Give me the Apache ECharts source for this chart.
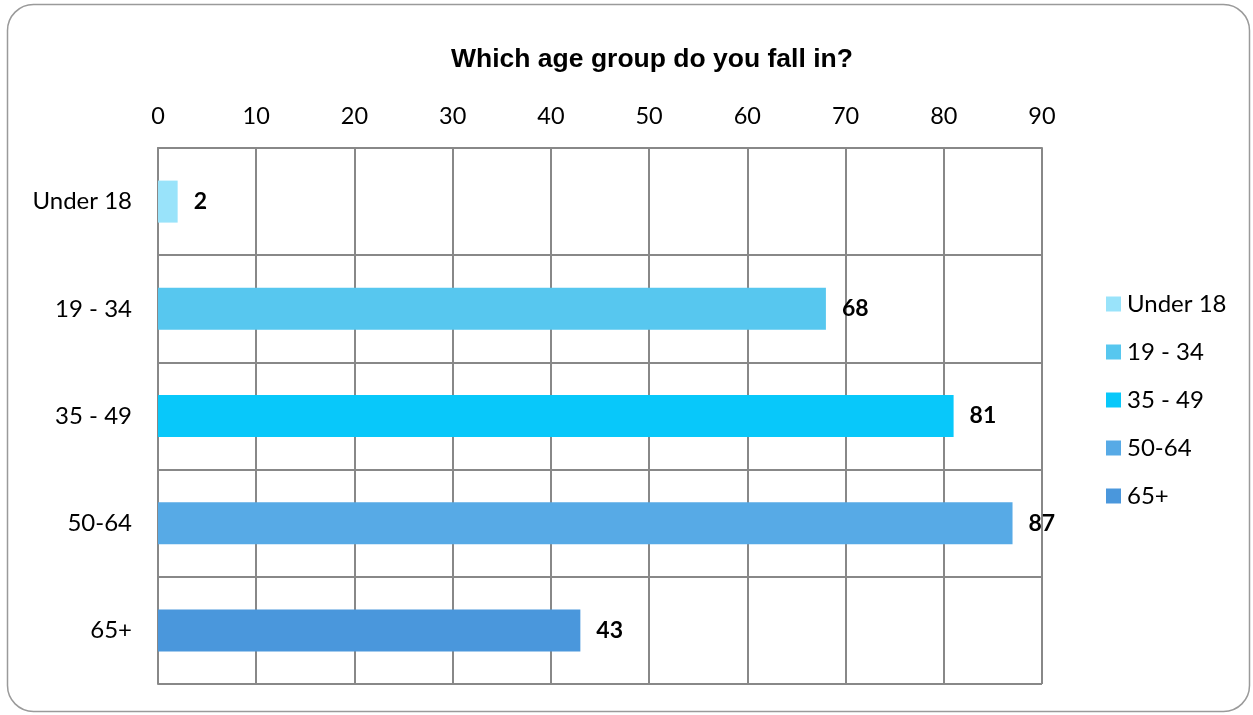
<!DOCTYPE html>
<html>
<head>
<meta charset="utf-8">
<script src="https://cdn.jsdelivr.net/npm/echarts@6/dist/echarts.min.js"></script>
<style>
  html, body { margin: 0; padding: 0; background: #fff; }
  #chart { width: 1253px; height: 715px; }
</style>
</head>
<body>
<div id="chart"></div>
<script>
// Survey responses per age group
const categories = ['Under 18', '19 - 34', '35 - 49', '50-64', '65+'];
const counts = [2, 68, 81, 87, 43];
const colors = ['#99E3FA', '#57C7EF', '#08C8FA', '#57AAE6', '#4A97DC'];
const xTicks = { min: 0, max: 90, interval: 10 };

const bodyFont = 'Lato, "Open Sans", sans-serif';

// One series per group so each gets its own legend entry; stacking keeps bars centred.
const series = categories.map((name, i) => ({
  name: name,
  type: 'bar',
  stack: 'all',
  barWidth: 42,
  itemStyle: { color: colors[i] },
  label: {
    show: true,
    position: 'right',
    distance: 16,
    fontFamily: bodyFont,
    fontWeight: 'bold',
    fontSize: 23,
    color: '#000',
    padding: [8, 0, 0, 0]
  },
  data: categories.map((c, j) => (j === i ? counts[i] : null))
}));

const chart = echarts.init(document.getElementById('chart'));
chart.setOption({
  animation: false,
  title: {
    text: 'Which age group do you fall in?',
    left: 446,
    top: 41,
    textStyle: {
      fontFamily: '"Liberation Sans", Arial, sans-serif',
      fontWeight: 'bold',
      fontSize: 26.5,
      color: '#000'
    }
  },
  graphic: [{
    type: 'rect',
    shape: { x: 7.5, y: 4.5, width: 1242, height: 707, r: 26 },
    style: { fill: 'none', stroke: '#9a9a9a', lineWidth: 1.5 },
    z: -1
  }],
  legend: {
    orient: 'vertical',
    left: 1101,
    top: 287,
    icon: 'rect',
    itemWidth: 15,
    itemHeight: 15,
    itemGap: 24,
    textStyle: { fontFamily: bodyFont, fontSize: 24, color: '#000', padding: [3, 0, 0, 1] },
    data: categories
  },
  grid: { left: 158, right: 211, top: 148, bottom: 31 },
  xAxis: {
    type: 'value',
    position: 'top',
    min: xTicks.min,
    max: xTicks.max,
    interval: xTicks.interval,
    axisLine: { show: true, lineStyle: { color: '#888', width: 2 } },
    axisTick: { show: false },
    axisLabel: { fontFamily: bodyFont, fontSize: 23.5, color: '#000', margin: 20 },
    splitLine: { show: true, lineStyle: { color: '#888', width: 2 } }
  },
  yAxis: {
    type: 'category',
    inverse: true,
    data: categories,
    axisLine: { show: true, lineStyle: { color: '#888', width: 2 } },
    axisTick: { show: false },
    axisLabel: { fontFamily: bodyFont, fontSize: 24, color: '#000', margin: 26, padding: [7, 0, 0, 0] },
    splitLine: { show: true, lineStyle: { color: '#888', width: 2 } }
  },
  series: series
});
</script>
</body>
</html>
